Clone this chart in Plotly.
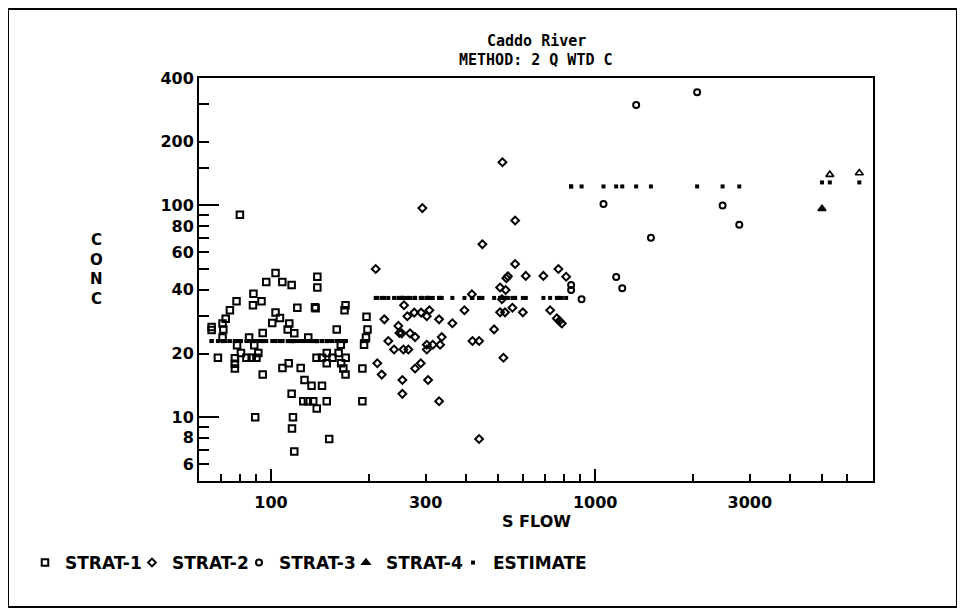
import plotly.graph_objects as go

# ---------------- data ----------------
s1_flow = [103.3, 96.7, 108.4, 115.8, 139.0, 139.0, 88.3, 78.3, 88.0, 93.5,
           120.6, 136.7, 137.3, 169.8, 168.6, 74.7, 72.5, 103.3, 100.9, 106.6,
           113.9, 112.6, 118.0, 94.3, 70.9, 71.3, 65.6, 65.6, 70.9, 85.6,
           130.3, 159.5, 197.1, 198.5, 196.4, 193.7, 164.2, 78.6, 88.8, 68.6,
           77.4, 77.4, 77.4, 80.8, 84.0, 87.2, 90.2, 91.4, 94.3, 108.5,
           113.4, 123.5, 138.2, 143.7, 148.6, 148.6, 154.8, 161.7, 170.0, 164.6,
           167.2, 169.8, 191.4, 126.9, 133.4, 143.7, 115.8, 125.8, 130.0, 135.0,
           138.4, 148.6, 191.4, 89.4, 116.9, 116.1, 151.2, 118.0, 80.2]
s1_conc = [48.0, 43.5, 43.5, 42.1, 46.1, 41.0, 38.3, 35.3, 33.8, 35.3,
           32.9, 33.1, 32.7, 33.8, 32.0, 32.0, 29.2, 31.2, 27.9, 29.4,
           27.7, 26.0, 24.9, 25.0, 27.7, 26.0, 26.7, 25.8, 23.8, 23.8,
           23.8, 26.0, 29.8, 26.0, 23.8, 22.0, 22.0, 21.9, 21.9, 19.1,
           19.0, 17.9, 17.0, 20.1, 19.1, 19.1, 19.1, 20.1, 15.9, 17.1,
           18.0, 17.1, 19.1, 19.1, 20.1, 18.0, 19.1, 20.1, 19.1, 18.0,
           17.0, 15.9, 17.0, 15.0, 14.1, 14.1, 12.9, 11.9, 11.9, 11.9,
           11.0, 11.9, 11.9, 10.0, 10.0, 8.84, 7.9, 6.9, 90.4]
# sample below the axis floor (drawn on the axis)
s1_low_flow = [163.0]
s1_low_conc = [5.0]

s2_flow = [517.6, 293.1, 566.3, 448.9, 210.4, 566.3, 532.0, 538.0, 611.1, 692.4,
           770.3, 813.7, 509.1, 529.5, 416.5, 515.7, 257.3, 223.7, 263.4, 276.7,
           290.4, 308.1, 302.4, 330.0, 362.7, 395.1, 509.1, 527.0, 555.6, 598.3,
           726.3, 761.7, 775.9, 789.2, 247.1, 249.0, 253.0, 268.5, 278.3, 230.1,
           239.7, 256.1, 265.3, 302.4, 302.4, 315.6, 332.4, 336.3, 487.9, 418.3,
           438.5, 212.8, 219.6, 278.3, 289.8, 254.3, 305.2, 254.3, 330.0, 521.2,
           438.5]
s2_conc = [160.0, 97.2, 84.9, 65.6, 50.1, 52.9, 45.3, 46.3, 46.5, 46.5,
           50.1, 46.1, 41.0, 39.9, 38.1, 36.1, 33.8, 29.0, 30.0, 31.2,
           31.2, 32.0, 30.0, 29.0, 27.8, 32.0, 31.3, 31.3, 32.9, 31.3,
           32.0, 29.3, 28.5, 27.7, 27.0, 25.0, 24.9, 24.9, 23.9, 22.9,
           20.9, 20.9, 20.9, 20.9, 22.0, 22.0, 22.0, 23.9, 26.0, 22.9,
           22.9, 18.0, 15.9, 17.0, 18.0, 15.0, 15.0, 12.9, 11.9, 19.1,
           7.9]

s3_flow = [843, 843, 908, 1061, 1161, 1212, 1338, 1486, 2063, 2472, 2783]
s3_conc = [42.1, 39.9, 36.1, 101.5, 45.9, 40.7, 298, 70.5, 343, 100, 81.0]

s4_flow = [5008, 5294, 6528]
s4_conc = [96.5, 139.8, 142.4]
s4_symbols = ["triangle-up", "triangle-up-open", "triangle-up-open"]

# stratum estimates (flow-weighted concentration per stratum)
est_level = [22.9, 36.6, 123.0, 128.5]

x_ticks = [100, 300, 1000, 3000]
x_ticktext = ["100", "300", "1000", "3000"]
x_minor = [70, 80, 90, 200, 400, 500, 600, 700, 800, 900, 2000, 4000, 5000, 6000]
x_long = [100, 1000]
y_ticks = [6, 8, 10, 20, 40, 60, 80, 100, 200, 400]
y_ticktext = ["6", "8", "10", "20", "40", "60", "80", "100", "200", "400"]
y_minor = [7, 9, 30, 50, 70, 90, 150, 300]
y_long = [10, 100]

# ---------------- figure ----------------
MONO = "DejaVu Sans Mono"
SANS = "DejaVu Sans"
BLACK = "#000000"
tickfont = dict(family=SANS, size=16, color=BLACK, weight="bold")
titlefont = dict(family=MONO, size=15, color=BLACK, weight="bold")

est_flow = s1_flow + s2_flow + s3_flow + s4_flow
est_conc = ([est_level[0]] * len(s1_flow) + [est_level[1]] * len(s2_flow)
            + [est_level[2]] * len(s3_flow) + [est_level[3]] * len(s4_flow))

fig = go.Figure()
fig.add_trace(go.Scatter(x=s1_flow, y=s1_conc, mode="markers", name="STRAT-1",
                         marker=dict(symbol="square-open", size=6.5, color=BLACK,
                                     line=dict(width=2, color=BLACK))))
fig.add_trace(go.Scatter(x=s2_flow, y=s2_conc, mode="markers", name="STRAT-2",
                         marker=dict(symbol="diamond-open", size=6, color=BLACK,
                                     line=dict(width=2, color=BLACK))))
fig.add_trace(go.Scatter(x=s3_flow, y=s3_conc, mode="markers", name="STRAT-3",
                         marker=dict(symbol="circle-open", size=6, color=BLACK,
                                     line=dict(width=2, color=BLACK))))
fig.add_trace(go.Scatter(x=s4_flow, y=s4_conc, mode="markers", name="STRAT-4",
                         marker=dict(symbol=s4_symbols, size=7, color=BLACK,
                                     line=dict(width=1.6, color=BLACK))))
fig.add_trace(go.Scatter(x=est_flow, y=est_conc, mode="markers", name="ESTIMATE",
                         marker=dict(symbol="square", size=4, color=BLACK,
                                     line=dict(width=0))))
# blank spacer entry so the last legend label is not clipped
fig.add_trace(go.Scatter(x=[None], y=[None], mode="markers", name=" ", hoverinfo="skip",
                         marker=dict(size=1, color="rgba(0,0,0,0)")))
fig.add_trace(go.Scatter(x=s1_low_flow, y=s1_low_conc, mode="markers", showlegend=False,
                         cliponaxis=False,
                         marker=dict(symbol="square", size=7, color=BLACK)))
# overlay axes carrying the long decade ticks
fig.add_trace(go.Scatter(x=[None], y=[None], xaxis="x2", yaxis="y2", mode="markers",
                         showlegend=False, hoverinfo="skip",
                         marker=dict(size=1, color="rgba(0,0,0,0)")))

xr = [1.778, 3.857]
yr = [0.699, 2.602]

fig.update_layout(
    width=957, height=604,
    paper_bgcolor="white", plot_bgcolor="white",
    margin=dict(l=191, r=92, t=70, b=131),
    font=dict(family=MONO, size=15, color=BLACK, weight="bold"),
    showlegend=True,
    legend=dict(orientation="h", x=-0.2582, xanchor="left", y=-0.2035, yanchor="middle",
                font=dict(family=SANS, size=17, color=BLACK, weight="bold"),
                entrywidth=62, entrywidthmode="pixels", traceorder="normal",
                bgcolor="rgba(0,0,0,0)", itemclick=False, itemdoubleclick=False),
    xaxis=dict(type="log", range=xr, tickmode="array", tickvals=x_ticks, ticktext=x_ticktext,
               ticks="inside", ticklen=7, tickwidth=1.5, tickcolor=BLACK,
               showline=True, linewidth=2, linecolor=BLACK, mirror=True,
               showgrid=False, zeroline=False, ticklabelstandoff=6,
               tickfont=tickfont,
               minor=dict(tickmode="array", tickvals=x_minor, ticks="inside", ticklen=7,
                          tickwidth=1.5, tickcolor=BLACK, showgrid=False)),
    yaxis=dict(type="log", range=yr, tickmode="array", tickvals=y_ticks, ticktext=y_ticktext,
               ticks="inside", ticklen=10, tickwidth=1.5, tickcolor=BLACK,
               showline=True, linewidth=2, linecolor=BLACK, mirror=True,
               showgrid=False, zeroline=False, ticklabelstandoff=0,
               tickfont=tickfont,
               minor=dict(tickmode="array", tickvals=y_minor, ticks="inside", ticklen=10,
                          tickwidth=1.5, tickcolor=BLACK, showgrid=False)),
    xaxis2=dict(type="log", range=xr, overlaying="x", anchor="y", side="bottom",
                tickmode="array", tickvals=x_long, ticks="inside", ticklen=12,
                tickwidth=1.5, tickcolor=BLACK, showticklabels=False,
                showline=False, showgrid=False, zeroline=False),
    yaxis2=dict(type="log", range=yr, overlaying="y", anchor="x", side="left",
                tickmode="array", tickvals=y_long, ticks="inside", ticklen=20,
                tickwidth=1.5, tickcolor=BLACK, showticklabels=False,
                showline=False, showgrid=False, zeroline=False),
    annotations=[
        dict(text="Caddo River", xref="paper", yref="paper", x=0.5, y=1.0918,
             xanchor="center", yanchor="middle", showarrow=False, font=titlefont),
        dict(text="METHOD: 2 Q WTD C", xref="paper", yref="paper", x=0.5, y=1.0447,
             xanchor="center", yanchor="middle", showarrow=False, font=titlefont),
        dict(text="S FLOW", xref="paper", yref="paper", x=0.5, y=-0.1017,
             xanchor="center", yanchor="middle", showarrow=False,
             font=dict(family=SANS, size=16, color=BLACK, weight="bold")),
        dict(text="C<br>O<br>N<br>C", xref="paper", yref="paper", x=-0.1528, y=0.5236,
             xanchor="center", yanchor="middle", showarrow=False,
             font=dict(family=SANS, size=15, color=BLACK, weight="bold")),
    ],
    shapes=[
        dict(type="rect", xref="paper", yref="paper", x0=-0.2834, x1=1.1246,
             y0=-0.3127, y1=1.1712, line=dict(color=BLACK, width=2), layer="below"),
    ],
)

fig.write_html("out.html")
